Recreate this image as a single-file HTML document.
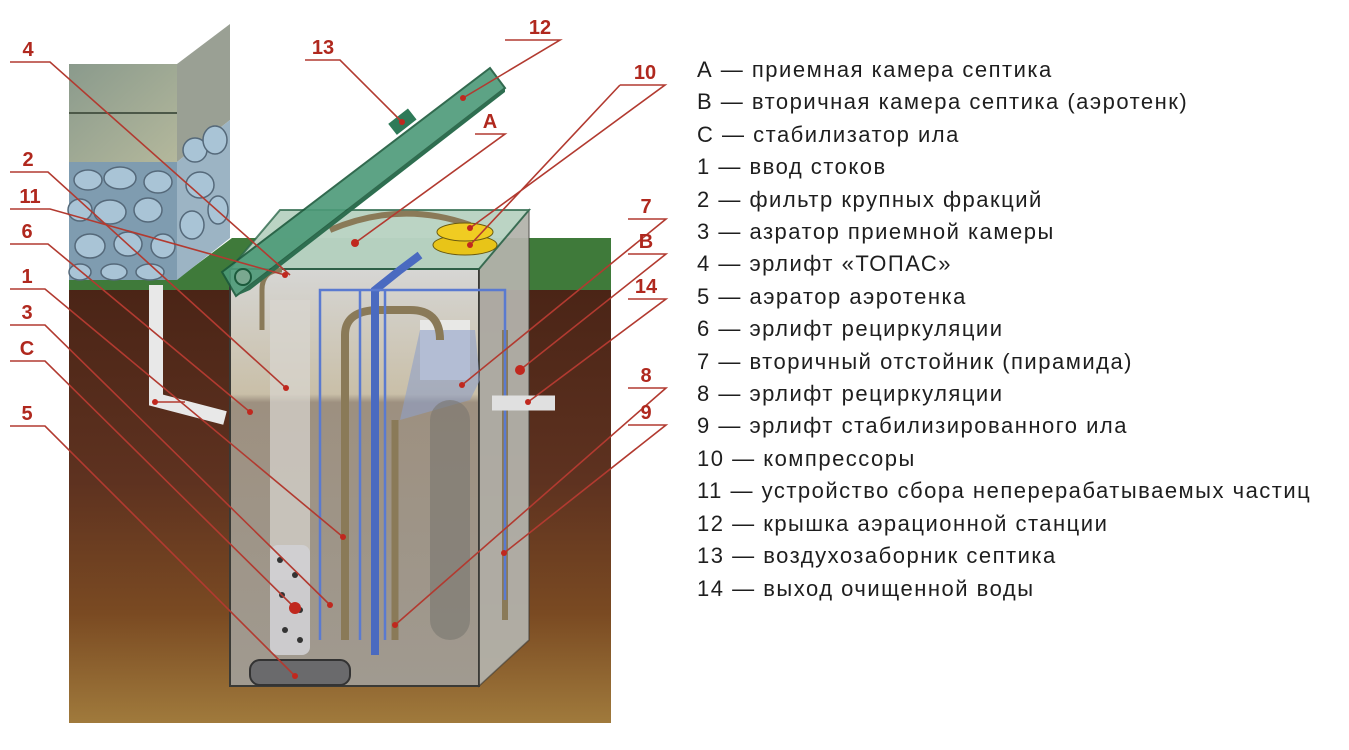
<!DOCTYPE html>
<html><head><meta charset="utf-8"><style>
html,body{margin:0;padding:0;background:#fff;}
body{width:1349px;height:750px;overflow:hidden;position:relative;}
.leg{position:absolute;left:697px;top:54px;font-family:"Liberation Sans","DejaVu Sans",sans-serif;font-size:22px;letter-spacing:1.5px;line-height:32.4px;color:#1e1e1e;white-space:nowrap;}
</style></head><body>
<svg width="1349" height="750" style="position:absolute;left:0;top:0" xmlns="http://www.w3.org/2000/svg">
<defs>
<linearGradient id="soil" x1="0" y1="0" x2="0" y2="1">
<stop offset="0" stop-color="#4a2416"/><stop offset="0.45" stop-color="#5e3220"/><stop offset="0.75" stop-color="#7a4a22"/><stop offset="1" stop-color="#a07a3c"/></linearGradient>
<linearGradient id="tank" x1="0" y1="0" x2="0" y2="1">
<stop offset="0" stop-color="#d6d6d4"/><stop offset="0.3" stop-color="#c9bfa8"/><stop offset="0.32" stop-color="#9d9080"/><stop offset="1" stop-color="#a09a90"/></linearGradient>
<linearGradient id="stone" x1="0" y1="0" x2="1" y2="1">
<stop offset="0" stop-color="#8a9a8c"/><stop offset="1" stop-color="#b4b89c"/></linearGradient>
</defs>
<rect x="69" y="285" width="542" height="438" fill="url(#soil)"/>
<polygon points="176,280 232,238 611,238 611,290 69,290 69,280" fill="#3f7a3a"/>
<rect x="69" y="64" width="108" height="98" fill="url(#stone)"/>
<line x1="69" y1="113" x2="177" y2="113" stroke="#4c5848" stroke-width="2"/>
<polygon points="177,64 230,24 230,120 177,162" fill="#9aa094"/>
<rect x="69" y="162" width="108" height="118" fill="#7f9cb0"/>
<polygon points="177,162 230,120 230,238 177,280" fill="#9cb4c4"/>
<g fill="#a9c4d6" stroke="#55697a" stroke-width="1.5">
<ellipse cx="88" cy="180" rx="14" ry="10"/><ellipse cx="120" cy="178" rx="16" ry="11"/><ellipse cx="158" cy="182" rx="14" ry="11"/>
<ellipse cx="80" cy="210" rx="12" ry="11"/><ellipse cx="110" cy="212" rx="16" ry="12"/><ellipse cx="148" cy="210" rx="14" ry="12"/>
<ellipse cx="90" cy="246" rx="15" ry="12"/><ellipse cx="128" cy="244" rx="14" ry="12"/><ellipse cx="163" cy="246" rx="12" ry="12"/>
<ellipse cx="80" cy="272" rx="11" ry="8"/><ellipse cx="114" cy="272" rx="13" ry="8"/><ellipse cx="150" cy="272" rx="14" ry="8"/>
<ellipse cx="195" cy="150" rx="12" ry="12"/><ellipse cx="215" cy="140" rx="12" ry="14"/><ellipse cx="200" cy="185" rx="14" ry="13"/><ellipse cx="218" cy="210" rx="10" ry="14"/><ellipse cx="192" cy="225" rx="12" ry="14"/>
</g>
<polygon points="230,269 280,210 529,210 529,640 479,686 230,686" fill="#c8c6c0" opacity="0.85"/>
<rect x="230" y="269" width="249" height="417" fill="url(#tank)" stroke="#3a3a36" stroke-width="2"/>
<polygon points="479,269 529,210 529,640 479,686" fill="#a8a8a0" opacity="0.6" stroke="#3a3a36" stroke-width="1.5"/>
<polygon points="230,269 280,210 529,210 479,269" fill="#b6d6c4" opacity="0.8" stroke="#2c6a4c" stroke-width="2"/>
<rect x="270" y="300" width="40" height="280" fill="#d8d6d0" opacity="0.7"/>
<rect x="420" y="320" width="50" height="60" fill="#e8e8e6"/>
<polygon points="400,420 420,330 475,330 480,380 470,400" fill="#8fa0c8" opacity="0.6"/>
<rect x="430" y="400" width="40" height="240" rx="20" fill="#7a7670" opacity="0.6"/>
<path d="M345,640 V335 Q345,310 380,310 L410,310 Q440,310 440,340" fill="none" stroke="#8a7a58" stroke-width="8"/>
<path d="M395,640 V420" stroke="#8a7a58" stroke-width="7"/>
<path d="M505,620 V330" stroke="#8a7a58" stroke-width="6"/>
<path d="M262,330 V290 Q262,270 282,270" fill="none" stroke="#8a7a58" stroke-width="5"/>
<path d="M330,230 Q400,200 470,225" fill="none" stroke="#8a7a58" stroke-width="6"/>
<path d="M375,655 V290 L400,270 L420,255" fill="none" stroke="#4a6ac0" stroke-width="8"/>
<path d="M320,640 V290 H505 V600 M360,640 V290 M385,640 V290" fill="none" stroke="#5a7ad0" stroke-width="2.5"/>
<rect x="270" y="545" width="40" height="110" rx="8" fill="#d0d0d4" opacity="0.9"/>
<g fill="#333"><circle cx="280" cy="560" r="3"/><circle cx="295" cy="575" r="3"/><circle cx="282" cy="595" r="3"/><circle cx="300" cy="610" r="3"/><circle cx="285" cy="630" r="3"/><circle cx="300" cy="640" r="3"/></g>
<rect x="250" y="660" width="100" height="25" rx="10" fill="#6a6a6c" stroke="#333" stroke-width="2"/>
<ellipse cx="465" cy="245" rx="32" ry="10" fill="#e8c418" stroke="#6a5a10"/>
<ellipse cx="465" cy="232" rx="28" ry="9" fill="#f0cc22" stroke="#6a5a10"/>
<path d="M156,285 V400 L225,418" fill="none" stroke="#e8e8e8" stroke-width="14"/>
<path d="M492,403 H555" stroke="#e0e0e0" stroke-width="15"/>
<polygon points="222,272 236,296 505,88 490,68" fill="#4c9a78" opacity="0.9" stroke="#1c5a3c" stroke-width="2"/>
<polygon points="236,296 250,290 505,92 505,88" fill="#2e6e50"/>
<rect x="390" y="115" width="25" height="14" fill="#2e7a58" transform="rotate(-38 402 122)"/>
<circle cx="243" cy="277" r="8" fill="#7aa890" stroke="#1c5a3c" stroke-width="2"/>
<g stroke="#b23a30" stroke-width="1.6" fill="none">
<path d="M10,62 H50 L290,275"/><path d="M305,60 H340 L402,122"/><path d="M505,40 H560 L463,98"/>
<path d="M620,85 H665 L470,228 M620,85 L470,245"/><path d="M475,134 H505 L355,243"/>
<path d="M10,172 H48 L286,388"/><path d="M10,209 H50 L285,275"/><path d="M10,244 H48 L250,412"/>
<path d="M10,289 H45 L343,537"/><path d="M10,325 H45 L330,605"/><path d="M10,361 H45 L295,608"/><path d="M10,426 H45 L295,676"/>
<path d="M628,219 H666 L462,385"/><path d="M628,254 H666 L520,370"/><path d="M628,299 H666 L528,402"/>
<path d="M628,388 H666 L395,625"/><path d="M628,425 H666 L504,553"/><path d="M185,402 H155"/>
</g>
<g fill="#c0281e"><circle cx="355" cy="243" r="4"/><circle cx="463" cy="98" r="3"/><circle cx="402" cy="122" r="3"/><circle cx="470" cy="228" r="3"/><circle cx="470" cy="245" r="3"/><circle cx="462" cy="385" r="3"/><circle cx="520" cy="370" r="5"/><circle cx="528" cy="402" r="3"/><circle cx="504" cy="553" r="3"/><circle cx="286" cy="388" r="3"/><circle cx="250" cy="412" r="3"/><circle cx="155" cy="402" r="3"/><circle cx="285" cy="275" r="3"/><circle cx="330" cy="605" r="3"/><circle cx="295" cy="608" r="6"/><circle cx="295" cy="676" r="3"/><circle cx="343" cy="537" r="3"/><circle cx="395" cy="625" r="3"/></g>
<g fill="#b0281e" font-family="Liberation Sans,sans-serif" font-weight="bold" font-size="20" text-anchor="middle">
<text x="28" y="56">4</text><text x="323" y="54">13</text><text x="540" y="34">12</text><text x="645" y="79">10</text><text x="490" y="128">A</text>
<text x="28" y="166">2</text><text x="30" y="203">11</text><text x="27" y="238">6</text><text x="27" y="283">1</text><text x="27" y="319">3</text><text x="27" y="355">C</text><text x="27" y="420">5</text>
<text x="646" y="213">7</text><text x="646" y="248">B</text><text x="646" y="293">14</text><text x="646" y="382">8</text><text x="646" y="419">9</text>
</g>
</svg>
<div class="leg">А — приемная камера септика<br>В — вторичная камера септика (аэротенк)<br>С — стабилизатор ила<br>1 — ввод стоков<br>2 — фильтр крупных фракций<br>3 — азратор приемной камеры<br>4 — эрлифт «ТОПАС»<br>5 — аэратор аэротенка<br>6 — эрлифт рециркуляции<br>7 — вторичный отстойник (пирамида)<br>8 — эрлифт рециркуляции<br>9 — эрлифт стабилизированного ила<br>10 — компрессоры<br>11 — устройство сбора неперерабатываемых частиц<br>12 — крышка аэрационной станции<br>13 — воздухозаборник септика<br>14 — выход очищенной воды</div>
</body></html>
